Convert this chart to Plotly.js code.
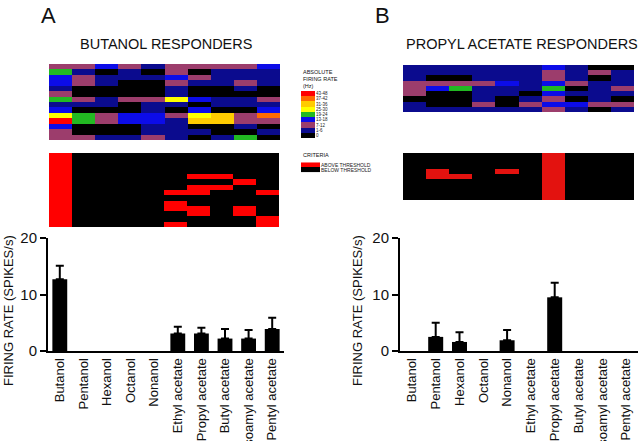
<!DOCTYPE html>
<html>
<head>
<meta charset="utf-8">
<script src="https://cdn.plot.ly/plotly-3.0.1.min.js"></script>
<style>html,body{margin:0;padding:0;background:#fff;}#chart{width:640px;height:441px;}</style>
</head>
<body>
<div id="chart"></div>
<script>
// ---------- DATA ----------
const odors = ['Butanol','Pentanol','Hexanol','Octanol','Nonanol','Ethyl acetate','Propyl acetate','Butyl acetate','Isoamyl acetate','Pentyl acetate'];

// firing-rate bins (index 0..8) and their labels / colours
const rateBinLabels = ['0','1-6','7-12','13-18','19-24','25-30','31-36','37-42','43-48'];
const rateBinColors = ['#000000','#0b0b8e','#9c3d6c','#0c0ce8','#22b922','#ffff00','#ffcc00','#ff6a00','#ff0000'];

// Panel A: butanol responders, absolute firing rate bin per cell (rows) x odor (cols)
const rateA = [
  [2,2,3,2,1,2,2,2,2,3],
  [4,1,0,1,0,2,0,1,1,1],
  [3,2,1,1,1,3,2,1,1,1],
  [3,2,1,0,0,2,1,1,2,1],
  [1,0,0,0,0,1,0,0,1,0],
  [2,0,0,0,0,1,0,0,0,0],
  [4,2,1,2,2,5,3,1,1,2],
  [1,1,1,0,1,1,0,1,1,1],
  [3,0,0,0,1,0,3,0,0,3],
  [5,4,2,3,3,2,5,6,2,7],
  [8,4,2,3,3,1,6,6,2,2],
  [3,0,0,0,1,1,0,0,1,0],
  [2,0,0,0,1,1,1,0,0,1],
  [2,2,1,1,2,1,0,1,4,0]
];
// Panel A: criteria (1 = above threshold)
const critA = [
  [1,0,0,0,0,0,0,0,0,0],
  [1,0,0,0,0,0,0,0,0,0],
  [1,0,0,0,0,0,0,0,0,0],
  [1,0,0,0,0,0,0,0,0,0],
  [1,0,0,0,0,0,1,1,0,0],
  [1,0,0,0,0,0,0,0,1,0],
  [1,0,0,0,0,0,1,1,0,0],
  [1,0,0,0,0,1,1,0,0,1],
  [1,0,0,0,0,0,0,0,0,0],
  [1,0,0,0,0,1,0,0,0,0],
  [1,0,0,0,0,1,1,0,1,0],
  [1,0,0,0,0,0,1,0,1,0],
  [1,0,0,0,0,0,0,0,0,1],
  [1,0,0,0,0,1,0,0,0,1]
];
const meanA = [12.7,0,0,0,0,3.1,3.1,2.2,2.2,3.9];
const semA  = [2.4,null,null,null,null,1.2,1.0,1.7,1.5,2.0];

// Panel B: propyl acetate responders
const rateB = [
  [1,1,1,1,1,1,3,1,0,0],
  [1,1,1,1,1,1,2,1,2,1],
  [1,0,0,1,1,1,2,1,0,1],
  [2,2,2,2,3,1,3,2,1,1],
  [2,3,4,1,1,1,4,0,1,2],
  [2,0,0,1,1,0,3,1,1,1],
  [0,0,0,1,0,1,2,0,1,0],
  [1,0,0,2,0,2,3,3,2,2],
  [1,1,1,1,1,1,2,1,0,1]
];
const critB = [
  [0,0,0,0,0,0,1,0,0,0],
  [0,0,0,0,0,0,1,0,0,0],
  [0,0,0,0,0,0,1,0,0,0],
  [0,1,0,0,1,0,1,0,0,0],
  [0,1,1,0,0,0,1,0,0,0],
  [0,0,0,0,0,0,1,0,0,0],
  [0,0,0,0,0,0,1,0,0,0],
  [0,0,0,0,0,0,1,0,0,0],
  [0,0,0,0,0,0,1,0,0,0]
];
const meanB = [0,2.5,1.6,0,1.9,0,9.5,0,0,0];
const semB  = [null,2.5,1.7,null,1.8,null,2.6,null,null,null];

const critLabels = ['ABOVE THRESHOLD','BELOW THRESHOLD'];
const critColorsA = ['#000000','#ff0000'];
const critColorsB = ['#000000','#e3120f'];
const yTicks = [0,10,20];

// ---------- helpers ----------
const W = 640, H = 441;
const px = v => v / W;
const py = v => 1 - v / H;
function discreteScale(colors) {
  const n = colors.length, s = [];
  colors.forEach((c, i) => { s.push([i / n, c]); s.push([(i + 1) / n, c]); });
  return s;
}
const FONT = '"Liberation Sans", Arial, Helvetica, sans-serif';
const idx = (m) => m[0].map((_, i) => i);
const rowsOf = (m) => m.map((_, i) => i);

function heat(z, colors, xa, ya) {
  return {type:'heatmap', z:z, x:idx(z), y:rowsOf(z), xaxis:xa, yaxis:ya,
    colorscale: discreteScale(colors), zmin:-0.5, zmax:colors.length-0.5,
    showscale:false, hoverinfo:'skip'};
}
function bars(y, e, xa, ya) {
  return {type:'bar', x:odors, y:y, xaxis:xa, yaxis:ya, marker:{color:'#000', line:{width:0}},
    error_y:{type:'data', array:e.map(v => v === null ? NaN : v), arrayminus:e.map(v => v === null ? NaN : 0),
      symmetric:false, color:'#000', thickness:2, width:4},
    hoverinfo:'skip'};
}

// legend strips (data-driven)
const legendRateZ = rateBinLabels.map((_, i) => [rateBinLabels.length - 1 - i]);
const legendCritZ = [[1],[0]];

const data = [
  heat(rateA, rateBinColors, 'x', 'y'),
  heat(critA, critColorsA, 'x2', 'y2'),
  bars(meanA, semA, 'x3', 'y3'),
  heat(rateB, rateBinColors, 'x4', 'y4'),
  heat(critB, critColorsB, 'x5', 'y5'),
  bars(meanB, semB, 'x6', 'y6'),
  heat(legendRateZ, rateBinColors, 'x7', 'y7'),
  heat(legendCritZ, critColorsA, 'x8', 'y8')
];

const hidden = {showgrid:false, zeroline:false, showticklabels:false, ticks:'', showline:false};
function heatX(d0, d1, anchor) { return Object.assign({domain:[px(d0), px(d1)], anchor:anchor}, hidden); }
function heatY(d0, d1, anchor) { return Object.assign({domain:[py(d1), py(d0)], anchor:anchor, autorange:'reversed'}, hidden); }
function barX(d0, d1, anchor) {
  return {domain:[px(d0), px(d1)], anchor:anchor, showline:true, linewidth:2, linecolor:'#000',
    ticks:'', tickangle:-90, tickfont:{family:FONT, size:13, color:'#111'}, showgrid:false, zeroline:false, fixedrange:true};
}
function barY(anchor) {
  return {domain:[py(351), py(238)], anchor:anchor, range:[0,20], tickvals:yTicks, showline:true, linewidth:2,
    linecolor:'#000', ticks:'outside', ticklen:6, tickwidth:2, tickcolor:'#000',
    tickfont:{family:FONT, size:15, color:'#111'}, showgrid:false, zeroline:false};
}
function label(text, x, y, size, extra) {
  return Object.assign({text:text, x:px(x), y:py(y), xref:'paper', yref:'paper', xanchor:'center', yanchor:'middle',
    showarrow:false, font:{family:FONT, size:size, color:'#111'}}, extra || {});
}

const layout = {
  width:W, height:H, margin:{l:0,r:0,t:0,b:0}, paper_bgcolor:'#fff', plot_bgcolor:'rgba(0,0,0,0)',
  showlegend:false, bargap:0.37,
  xaxis: heatX(49, 280, 'y'),  yaxis: heatY(64, 140, 'x'),
  xaxis2: heatX(49, 279, 'y2'), yaxis2: heatY(153, 227, 'x2'),
  xaxis3: barX(48, 284, 'y3'), yaxis3: barY('x3'),
  xaxis4: heatX(403, 634, 'y4'), yaxis4: heatY(65, 112, 'x4'),
  xaxis5: heatX(403, 634, 'y5'), yaxis5: heatY(153, 200, 'x5'),
  xaxis6: barX(400, 638, 'y6'), yaxis6: barY('x6'),
  xaxis7: heatX(301, 315, 'y7'),
  yaxis7: {domain:[py(138.3), py(91)], anchor:'x7', autorange:'reversed', showgrid:false, zeroline:false,
    side:'right', ticks:'', tickvals:rateBinLabels.map((_, i)=>i), ticktext:rateBinLabels.slice().reverse(),
    tickfont:{family:FONT, size:4.5, color:'#222'}, showline:false},
  xaxis8: heatX(301, 320, 'y8'),
  yaxis8: {domain:[py(172.3), py(162.3)], anchor:'x8', autorange:'reversed', showgrid:false, zeroline:false,
    side:'right', ticks:'', tickvals:[0,1], ticktext:critLabels, tickfont:{family:FONT, size:5, color:'#222'}, showline:false},
  annotations: [
    label('A', 48, 16, 22),
    label('B', 382, 16, 22),
    label('BUTANOL RESPONDERS', 166, 44, 14.5),
    label('PROPYL ACETATE RESPONDERS', 522, 44, 14.5),
    label('ABSOLUTE<br>FIRING RATE<br>(Hz)', 301, 66.5, 5.5, {xanchor:'left', yanchor:'top', align:'left'}),
    label('CRITERIA', 301, 155.3, 5.5, {xanchor:'left'}),
    label('FIRING RATE (SPIKES/s)', 8, 311, 13, {textangle:-90}),
    label('FIRING RATE (SPIKES/s)', 357, 311, 13, {textangle:-90})
  ]
};

Plotly.newPlot('chart', data, layout, {displayModeBar:false, staticPlot:true});
</script>
</body>
</html>
